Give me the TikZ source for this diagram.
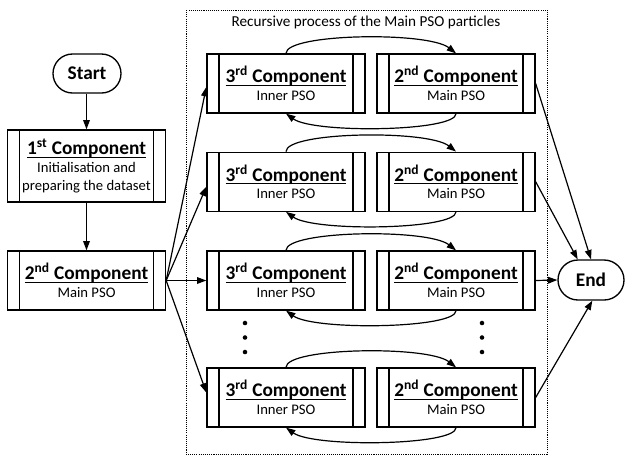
\documentclass[tikz,border=0pt]{standalone}
\usepackage{fontspec}
\setmainfont{Carlito}
\usetikzlibrary{arrows.meta,shapes.misc,calc}
\newcommand\cmpul[1]{\setbox0\hbox{#1}\rlap{\rule[-2.3pt]{\wd0}{0.9pt}}\box0}
\newcommand\bigt[1]{{\fontsize{14.5}{17}\selectfont\bfseries\cmpul{#1}}}
\tikzset{
  x=0.75pt, y=0.75pt,
  proc/.style={draw, line width=1pt, minimum width=118.5pt, minimum height=44.25pt,
    inner sep=0pt, align=center, font=\fontsize{11}{13.2}\selectfont,
    path picture={\draw[line width=1pt]
      ([xshift=9pt]path picture bounding box.north west) -- ([xshift=9pt]path picture bounding box.south west)
      ([xshift=-9pt]path picture bounding box.north east) -- ([xshift=-9pt]path picture bounding box.south east);}},
  term/.style={draw, line width=1pt, rounded rectangle, inner sep=0pt,
    font=\fontsize{14.5}{17}\selectfont\bfseries},
  arr/.style={-{Triangle[length=7pt,width=5pt]}, line width=0.9pt},
  frame/.style={line width=0.5pt, dash pattern=on 0.8pt off 0.8pt},
  dot/.style={fill=black}
}
\begin{document}
\begin{tikzpicture}
\useasboundingbox (0,0) rectangle (625,-455);
% dotted frame
\draw[frame] (186,-10) rectangle (547,-454);
\node[anchor=base, font=\fontsize{11.4}{13.5}\selectfont] (title) at (366,-26.7) {Recursive process of the Main PSO particles};

% left column
\node[term, minimum width=51pt, minimum height=29.25pt] (start) at (87,-73.5) {Start};
\node[proc, minimum height=54pt] (c1) at (86.5,-166) {\bigt{1\textsuperscript{st} Component}\\Initialisation and\\preparing the dataset};
\node[proc] (c2) at (86.5,-280.5) {\bigt{2\textsuperscript{nd} Component}\\Main PSO};

% rows
\node[proc] (a1) at (286,-83.5) {\bigt{3\textsuperscript{rd} Component}\\Inner PSO};
\node[proc] (b1) at (456,-83.5) {\bigt{2\textsuperscript{nd} Component}\\Main PSO};
\node[proc] (a2) at (286,-181.7) {\bigt{3\textsuperscript{rd} Component}\\Inner PSO};
\node[proc] (b2) at (456,-181.7) {\bigt{2\textsuperscript{nd} Component}\\Main PSO};
\node[proc] (a3) at (286,-280.5) {\bigt{3\textsuperscript{rd} Component}\\Inner PSO};
\node[proc] (b3) at (456,-280.5) {\bigt{2\textsuperscript{nd} Component}\\Main PSO};
\node[proc] (a4) at (286,-397.5) {\bigt{3\textsuperscript{rd} Component}\\Inner PSO};
\node[proc] (b4) at (456,-397.5) {\bigt{2\textsuperscript{nd} Component}\\Main PSO};

\node[term, minimum width=49.5pt, minimum height=30pt] (end) at (591,-280) {End};

% dots
\foreach \yy in {-323,-337.5,-352}{
  \fill[dot] (245,\yy) circle (1.7pt);
  \fill[dot] (482,\yy) circle (1.7pt);
}

% vertical flow
\draw[arr] (start.south -| c1.north) -- (c1.north);
\draw[arr] (c1.south) -- (c2.north);

% fan out
\draw[arr] (c2.east) -- ([yshift=-2.6pt]a1.west);
\draw[arr] (c2.east) -- ([yshift=-3.7pt]a2.west);
\draw[arr] (c2.east) -- (a3.west);
\draw[arr] (c2.east) -- ([yshift=3.7pt]a4.west);

% recursive loops
\foreach \r in {1,2,3,4}{
  \draw[arr] (a\r.north) .. controls +(0,20) and +(-28,22) .. (b\r.north);
  \draw[arr] (b\r.south) .. controls +(0,-18) and +(28,-20) .. (a\r.south);
}

% to end
\draw[arr] (b1.east) -- (end.north);
\draw[arr] (b2.east) -- ([xshift=-10pt]end.north);
\draw[arr] (b3.east) -- (end.west);
\draw[arr] (b4.east) -- ([xshift=1pt]end.south);
\end{tikzpicture}
\end{document}
